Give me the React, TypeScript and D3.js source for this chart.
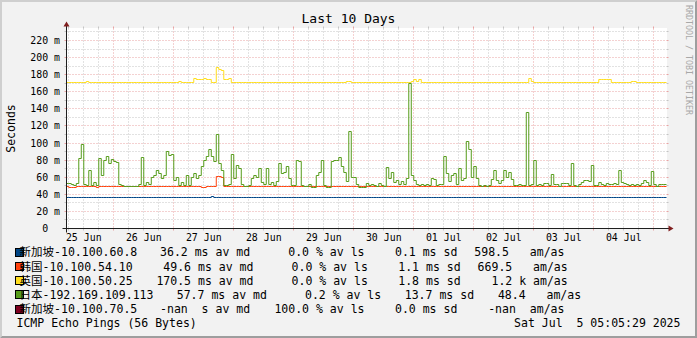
import React from "react";
import * as d3 from "d3";

// ---------- data ----------
const startTime = Date.UTC(2025, 5, 25, 5, 5, 29);
const endTime = Date.UTC(2025, 6, 5, 5, 5, 29);
const firstStep = Date.UTC(2025, 5, 25, 5, 0, 0); // hourly consolidated steps
const yMaxMs = 234.0;
const yLabelTicks = [0, 20, 40, 60, 80, 100, 120, 140, 160, 180, 200, 220];
const yMinorTicks = [10, 30, 50, 70, 90, 110, 130, 150, 170, 190, 210, 230];

const hostNames = [
  "新加坡-10.100.60.8",
  "韩国-10.100.54.10",
  "英国-10.100.50.25",
  "日本-192.169.109.113",
  "新加坡-10.100.70.5",
];
const hostColors = ["#004586", "#ff420e", "#ffde20", "#579d1c", "#7e0021"];
const medianMs = [36.2, 49.6, 170.5, 57.7, NaN];
const lossPct = [0.0, 0.0, 0.0, 0.2, 100.0];
const sdMs = [0.1, 1.1, 1.8, 13.7, 0.0];
const amAs = [598.5, 669.5, 1200, 48.4, NaN];

// hourly medians (ms), 240 steps starting 25 Jun 05:00
const sgSeries = [
  36.2,36.2,36.2,36.2,36.2,36.2,36.2,36.2,36.2,36.2,36.2,36.2,36.2,36.2,36.2,36.2,36.2,36.2,36.2,36.2,36.2,36.2,36.2,36.2,
  36.2,36.2,36.2,36.2,36.2,36.2,36.2,36.2,36.2,36.2,36.2,36.2,36.2,36.2,36.2,36.2,36.2,36.2,36.2,36.2,36.2,36.2,36.2,36.2,
  36.2,36.2,36.2,36.2,36.2,36.2,36.2,36.2,36.2,36.2,37.4,36.2,36.2,36.2,36.2,36.2,36.2,36.2,36.2,36.2,36.2,36.2,36.2,36.2,
  36.2,36.2,36.2,36.2,36.2,36.2,36.2,36.2,36.2,36.2,36.2,36.2,36.2,36.2,36.2,36.2,36.2,36.2,36.2,36.2,36.2,36.2,36.2,36.2,
  36.2,36.2,36.2,36.2,36.2,36.2,36.2,36.2,36.2,36.2,36.2,36.2,36.2,36.2,36.2,36.2,36.2,36.2,36.2,36.2,36.2,36.2,36.2,36.2,
  36.2,36.2,36.2,36.2,36.2,36.2,36.2,36.2,36.2,36.2,36.2,36.2,36.2,36.2,36.2,36.2,36.2,36.2,36.2,36.2,36.2,36.2,36.2,36.2,
  36.2,36.2,36.2,36.2,36.2,36.2,36.2,36.2,36.2,36.2,36.2,36.2,36.2,36.2,36.2,36.2,36.2,36.2,36.2,36.2,36.2,36.2,36.2,36.2,
  36.2,36.2,36.2,36.2,36.2,36.2,36.2,36.2,36.2,36.2,36.2,36.2,36.2,36.2,36.2,36.2,36.2,36.2,36.2,36.2,36.2,36.2,36.2,36.2,
  36.2,36.2,36.2,36.2,36.2,36.2,36.2,36.2,36.2,36.2,36.2,36.2,36.2,36.2,36.2,36.2,36.2,36.2,36.2,36.2,36.2,36.2,36.2,36.2,
  36.2,36.2,36.2,36.2,36.2,36.2,36.2,36.2,36.2,36.2,36.2,36.2,36.2,36.2,36.2,36.2,36.2,36.2,36.2,36.2,36.2,36.2,36.2,36.2,
];
const krSeries = [
  49.6,48.4,48.4,48.4,49.6,49.6,49.6,49.6,49.6,49.6,49.6,49.6,48.4,49.6,49.6,49.6,49.6,49.6,49.6,49.6,49.6,49.6,49.6,49.6,
  49.6,49.6,49.6,49.6,49.6,49.6,49.6,49.6,49.6,49.6,49.6,49.6,49.6,49.6,49.6,49.6,49.6,49.6,49.6,49.6,49.6,49.6,49.6,49.6,
  49.6,49.6,49.6,49.6,49.6,49.6,48.4,48.4,49.6,49.6,49.6,49.6,60.5,60.5,60.0,49.6,49.6,49.6,49.6,49.6,49.6,49.6,49.6,49.6,
  49.6,49.6,49.6,49.6,49.6,49.6,49.6,49.6,49.6,49.6,49.6,49.6,49.6,49.6,49.6,49.6,49.6,49.6,49.6,49.6,49.6,49.6,49.6,49.6,
  49.6,49.6,49.6,49.6,49.6,49.6,49.6,49.6,49.6,49.6,49.6,49.6,49.6,49.6,49.6,49.6,49.6,49.6,49.6,49.6,49.6,49.6,49.6,49.6,
  49.6,49.6,49.6,49.6,49.6,49.6,49.6,49.6,49.6,49.6,49.6,49.6,49.6,49.6,49.6,49.6,49.6,49.6,49.6,49.6,49.6,49.6,49.6,49.6,
  49.6,49.6,49.6,49.6,49.6,49.6,49.6,49.6,49.6,49.6,49.6,49.6,49.6,49.6,49.6,49.6,49.6,49.6,49.6,49.6,49.6,49.6,49.6,49.6,
  49.6,49.6,49.6,49.6,49.6,49.6,49.6,49.6,49.6,49.6,49.6,49.6,49.6,49.6,49.6,49.6,49.6,49.6,49.6,49.6,49.6,49.6,49.6,49.6,
  49.6,49.6,49.6,49.6,49.6,49.6,49.6,49.6,49.6,49.6,49.6,49.6,49.6,49.6,49.6,49.6,49.6,49.6,49.6,49.6,49.6,49.6,49.6,49.6,
  49.6,49.6,49.6,49.6,49.6,49.6,49.6,49.6,49.6,49.6,49.6,49.6,49.6,49.6,49.6,49.6,49.6,49.6,49.6,49.6,49.6,49.6,49.6,49.6,
];
const ukSeries = [
  170.6,170.6,170.6,170.6,170.6,170.6,170.6,170.6,171.8,170.6,170.6,170.6,170.6,170.6,170.6,170.6,170.6,170.6,170.6,170.6,170.6,170.6,170.6,170.6,
  170.6,170.6,170.6,170.6,170.6,170.6,170.6,170.6,170.6,170.6,170.6,170.6,170.6,170.6,170.6,170.6,170.6,170.6,170.6,170.6,170.6,171.8,170.6,170.6,
  170.6,170.6,170.6,176.0,174.5,174.5,174.5,175.5,174.5,174.5,170.6,170.6,188.0,185.5,184.5,174.5,174.5,175.5,170.6,170.6,170.6,170.6,170.6,170.6,
  170.6,170.6,170.6,170.6,170.6,170.6,170.6,170.6,170.6,170.6,170.6,170.6,170.6,170.6,170.6,170.6,170.6,170.6,170.6,170.6,170.6,170.6,170.6,170.6,
  170.6,170.6,170.6,170.6,170.6,170.6,170.6,170.6,170.6,170.6,170.6,170.6,170.6,170.6,170.6,170.6,171.8,172.5,170.6,170.6,170.6,170.6,170.6,170.6,
  170.6,170.6,170.6,170.6,170.6,170.6,170.6,170.6,170.6,170.6,170.6,170.6,170.6,170.6,170.6,170.6,170.6,170.6,172.4,174.0,172.4,174.0,170.6,170.6,
  170.6,170.6,170.6,170.6,170.6,170.6,170.6,170.6,170.6,170.6,170.6,170.6,170.6,170.6,170.6,170.6,170.6,170.6,170.6,170.6,170.6,170.6,170.6,170.6,
  170.6,170.6,170.6,170.6,170.6,170.6,170.6,170.6,170.6,170.6,170.6,170.6,170.6,170.6,170.6,170.6,170.6,175.0,172.4,170.6,170.6,170.6,170.6,170.6,
  170.6,170.6,170.6,170.6,170.6,170.6,170.6,170.6,170.6,170.6,170.6,170.6,170.6,170.6,170.6,170.6,170.6,170.6,170.6,170.6,170.6,174.0,174.0,174.0,
  174.0,174.0,170.6,170.6,170.6,170.6,170.6,170.6,170.6,170.6,172.2,172.2,170.6,170.6,170.6,170.6,170.6,170.6,170.6,170.6,170.6,170.6,170.6,170.6,
];
const jpSeries = [
  52.3,52.3,51,50.3,52.3,82,98,52,50.3,68,50.3,54,50.3,81.5,62,80,84,76,81,78,77.6,51,50.3,49.2,
  49.2,49.2,49.2,49.6,49.2,51,83.5,50.3,54,51,60,62,68,64,58,62,90,85,87,56,60,50.3,54,50.3,
  62,50.3,60,64,58,62,72,80,84,92,84,78,110,76,68,50.3,50.3,51,86.6,58,74,70,52,49.2,
  49.2,50.3,58,62,60,70,54,52,70,52,54,50.3,55,76,64,66,72,58,50.3,50.3,80,78,50.3,49.2,
  49.2,51,48.4,48.4,62,66,80,50,48.4,48.4,78,80,79,83.5,72,66,55,114,60,60,51,48.4,48.4,48.4,
  53,50.3,52,50.3,49.2,53,50.3,49.2,71,58,66,54,56,52,55,52,58,170,62,56,52,50.3,51,50.3,
  52,50.3,58,57,50.3,52,52,84,64,55,62,64,52,70,56,58,102,92,60,72,58,50.3,49.2,50.3,
  49.2,50.3,57,68,56,53,56,68,60,66,57,50.3,50.3,51,50.3,50.3,136,50.3,51,80,50.3,52,50.3,53,
  53,50.3,63,52,51,49.5,53,53,53,50.3,75.7,50.3,49.2,52,54,56,56,55,74,50.3,50.3,54,52,50.3,
  53,51.5,52,53,51.5,68,54,53,51,50.3,51.5,50.3,51,50.3,53,56.2,54,50.3,67,52,49.2,52,52,51.5,
];
const sg2Series: number[] = []; // 100% loss: no data

const seriesList = [sgSeries, krSeries, ukSeries, jpSeries, sg2Series];

// ---------- layout ----------
const W = 697, H = 338;
const X0 = 66.5, X1 = 666.5, Y0 = 228.5, Y1 = 28.5;
const MONO = "'DejaVu Sans Mono', 'Noto Sans CJK SC', monospace";
const LEG_FS = 11.53, AXIS_FS = 9.9, TITLE_FS = 13, WM_FS = 8.3;
const legendBase = 256.3, legendStep = 14.2;
const legendItemX = [153.1, 274.4, 381.1, 474.3];
const legendRowShift = [0, 3.3, 3.3, 16.7, 0];

const GRID = "#c4c4c4";
const MGRID = "#e9a3a3";
const AXIS = "#1f1f1f";
const ARROW = "#801f1f";

const px = (v: number) => Math.round(v - 0.5) + 0.5;

const f5 = (v: number) => (isNaN(v) ? " -nan" : v.toFixed(1).padStart(5, " "));

export default function App() {
  const x = d3.scaleUtc().domain([startTime, endTime]).range([X0, X1]);
  const y = d3.scaleLinear().domain([0, yMaxMs]).range([Y0, Y1]);

  const sixHours = d3.utcHour.every(6)!.range(startTime, endTime);
  const midnights = d3.utcDay.range(startTime, endTime);
  const minorV = sixHours.filter((t) => t.getUTCHours() !== 0);
  const noons = d3.utcDay
    .range(startTime - 86400000, endTime)
    .map((d) => new Date(d.getTime() + 12 * 3600000))
    .filter((d) => d.getTime() >= startTime && d.getTime() <= endTime);
  const dayFmt = d3.utcFormat("%d %b");
  const stampFmt = d3.utcFormat("%a %b %e %H:%M:%S %Y");

  const line = d3
    .line<{ t: number; v: number }>()
    .x((d) => x(d.t))
    .y((d) => px(y(d.v)))
    .curve(d3.curveStepAfter);

  const paths = seriesList.map((s) => {
    if (!s.length) return null;
    const pts = s.map((v, k) => ({ t: firstStep + k * 3600000, v }));
    pts.push({ t: endTime, v: s[s.length - 1] });
    return line(pts);
  });

  const item1 = (i: number) => `${f5(medianMs[i])} ${isNaN(medianMs[i]) ? " " : "m"}s av md`;
  const item2 = (i: number) => `${f5(lossPct[i])} % av ls`;
  const item3 = (i: number) => `${f5(sdMs[i])} ms sd`;
  const item4 = (i: number) => {
    const v = amAs[i];
    if (isNaN(v)) return "  -nan  am/as";
    if (v >= 1000) return `${f5(v / 1000)} k am/as`;
    return `${f5(v)}   am/as`;
  };

  return (
    <svg
      width={W}
      height={H}
      viewBox={`0 0 ${W} ${H}`}
      style={{ position: "absolute", left: 0, top: 0, display: "block" }}
      fontFamily={MONO}
    >
      <defs>
        <clipPath id="plotclip">
          <rect x={X0} y={Y1 - 10} width={X1 - X0 + 0.5} height={Y0 - Y1 + 10} />
        </clipPath>
      </defs>
      {/* background + 3d border */}
      <rect x={0} y={0} width={W} height={H} fill="#f2f2f2" />
      <path d={`M0,${H} L2,${H - 2} L2,2 L${W - 2},2 L${W},0 L0,0 Z`} fill="#cfcfcf" />
      <path d={`M2,${H - 2} L${W - 2},${H - 2} L${W - 2},2 L${W},0 L${W},${H} L0,${H} Z`} fill="#9e9e9e" />
      {/* canvas */}
      <rect x={X0 - 0.5} y={Y1 - 0.5} width={X1 - X0 + 1} height={Y0 - Y1 + 1} fill="#ffffff" />

      {/* horizontal grid */}
      {yMinorTicks.map((v) => {
        const yy = px(y(v));
        return (
          <g key={"hm" + v}>
            <line x1={X0 - 2} x2={X0} y1={yy} y2={yy} stroke={GRID} />
            <line x1={X1} x2={X1 + 2} y1={yy} y2={yy} stroke={GRID} />
            <line x1={X0} x2={X1} y1={yy} y2={yy} stroke={GRID} strokeDasharray="1 2" />
          </g>
        );
      })}
      {yLabelTicks.filter((v) => v > 0).map((v) => {
        const yy = px(y(v));
        return (
          <g key={"hM" + v}>
            <line x1={X0 - 2} x2={X0} y1={yy} y2={yy} stroke={MGRID} />
            <line x1={X1} x2={X1 + 2} y1={yy} y2={yy} stroke={MGRID} />
            <line x1={X0} x2={X1} y1={yy} y2={yy} stroke={MGRID} strokeDasharray="1 2" />
          </g>
        );
      })}
      {/* vertical grid */}
      {minorV.map((t) => {
        const xx = px(x(t));
        return (
          <g key={"vm" + t.getTime()}>
            <line x1={xx} x2={xx} y1={Y1 - 2} y2={Y1} stroke={GRID} />
            <line x1={xx} x2={xx} y1={Y0} y2={Y0 + 2} stroke={GRID} />
            <line x1={xx} x2={xx} y1={Y1} y2={Y0} stroke={GRID} strokeDasharray="1 2" />
          </g>
        );
      })}
      {midnights.map((t) => {
        const xx = px(x(t));
        return (
          <g key={"vM" + t.getTime()}>
            <line x1={xx} x2={xx} y1={Y1 - 2} y2={Y1} stroke={MGRID} />
            <line x1={xx} x2={xx} y1={Y0} y2={Y0 + 2} stroke={MGRID} />
            <line x1={xx} x2={xx} y1={Y1} y2={Y0} stroke={MGRID} strokeDasharray="1 2" />
          </g>
        );
      })}

      {/* data lines */}
      <g clipPath="url(#plotclip)">
        {paths.map((d, i) =>
          d ? <path key={"s" + i} d={d} fill="none" stroke={hostColors[i]} strokeWidth={1} /> : null
        )}
      </g>

      {/* axes */}
      <line x1={X0 - 4} x2={X1 + 4} y1={Y0} y2={Y0} stroke={AXIS} />
      <line x1={X0} x2={X0} y1={Y0 + 4} y2={Y1 - 4} stroke={AXIS} />
      <path d={`M${X1 + 2},${Y0 - 3} L${X1 + 2},${Y0 + 3} L${X1 + 7},${Y0} Z`} fill={ARROW} />
      <path d={`M${X0 - 3},${Y1 - 2} L${X0 + 3},${Y1 - 2} L${X0},${Y1 - 7} Z`} fill={ARROW} />

      {/* y labels */}
      {yLabelTicks.map((v) => (
        <text
          key={"yl" + v}
          x={60}
          y={px(y(v)) + 3.4}
          fontSize={AXIS_FS}
          textAnchor="end"
          fill="#000"
          xmlSpace="preserve"
          style={{ whiteSpace: "pre" }}
        >
          {`${v} ${v === 0 ? " " : "m"}`}
        </text>
      ))}
      {/* x labels */}
      {noons.map((t) => (
        <text key={"xl" + t.getTime()} x={x(t)} y={240.6} fontSize={AXIS_FS} textAnchor="middle" fill="#000">
          {dayFmt(t)}
        </text>
      ))}

      {/* title, unit, watermark */}
      <text x={W / 2} y={23} fontSize={TITLE_FS} textAnchor="middle" fill="#000">
        Last 10 Days
      </text>
      <text
        transform={`translate(14.5, ${(Y0 + Y1) / 2}) rotate(-90)`}
        fontSize={LEG_FS}
        textAnchor="middle"
        fill="#000"
      >
        Seconds
      </text>
      <text transform={`translate(685.6, 5) rotate(90)`} fontSize={WM_FS} fill="#a8a8a8">
        RRDTOOL / TOBI OETIKER
      </text>

      {/* legend */}
      {hostNames.map((name, i) => {
        const base = legendBase + i * legendStep;
        const by = Math.round(base - 8.5) + 0.5;
        const sh = legendRowShift[i];
        const items = [item1(i), item2(i), item3(i), item4(i)];
        return (
          <g key={"lg" + i}>
            <rect x={15.5} y={by} width={8} height={8} fill={hostColors[i]} stroke="#000" strokeWidth={1} />
            <text x={19.5} y={base} fontSize={LEG_FS} fill="#000">
              {name}
            </text>
            {items.map((s, j) => (
              <text
                key={j}
                x={legendItemX[j] + sh}
                y={base}
                fontSize={LEG_FS}
                fill="#000"
                xmlSpace="preserve"
                style={{ whiteSpace: "pre" }}
              >
                {s}
              </text>
            ))}
          </g>
        );
      })}
      <text x={16.5} y={legendBase + 5 * legendStep} fontSize={LEG_FS} fill="#000">
        ICMP Echo Pings (56 Bytes)
      </text>
      <text
        x={680.5}
        y={legendBase + 5 * legendStep}
        fontSize={LEG_FS}
        textAnchor="end"
        fill="#000"
        xmlSpace="preserve"
        style={{ whiteSpace: "pre" }}
      >
        {stampFmt(new Date(endTime))}
      </text>
    </svg>
  );
}
